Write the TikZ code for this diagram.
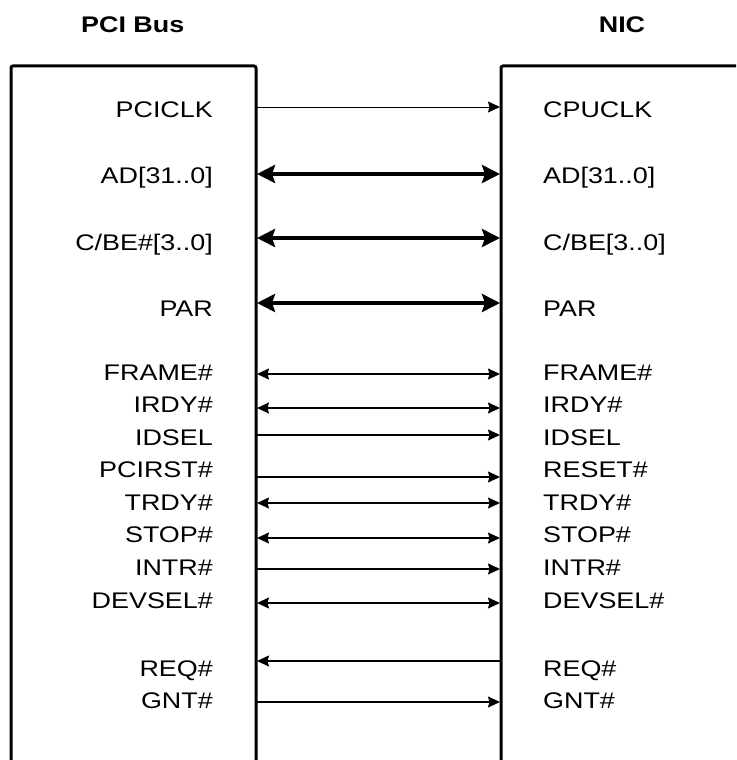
\documentclass[tikz,border=0pt]{standalone}
\usepackage{fontspec}
\setmainfont{Liberation Sans}[FakeStretch=1.19]
\usetikzlibrary{arrows.meta}

\begin{document}
\begin{tikzpicture}[x=1pt,y=-1pt,
  box/.style={line width=3pt, rounded corners=2pt},
  lbl/.style={font=\fontsize{22.6}{26}\selectfont, inner sep=0pt},
  llbl/.style={lbl, anchor=base east},
  rlbl/.style={lbl, anchor=base west},
  ttl/.style={font=\fontsize{22.6}{26}\selectfont\bfseries, inner sep=0pt, anchor=base},
  bus/.style={line width=4pt, {Stealth[length=18pt,width=18pt,inset=3pt]}-{Stealth[length=18pt,width=18pt,inset=3pt]}},
  sig/.style={line width=1.4pt},
  sigr/.style={sig, -{Stealth[length=12pt,width=11pt,inset=1.5pt]}},
  sigl/.style={sig, {Stealth[length=12pt,width=11pt,inset=1.5pt]}-},
  sigb/.style={sig, {Stealth[length=12pt,width=11pt,inset=1.5pt]}-{Stealth[length=12pt,width=11pt,inset=1.5pt]}}
]
\useasboundingbox (0,0) rectangle (736,760);
\clip (0,0) rectangle (736,760);

% titles
\node[ttl] (tpci) at (132.7,32.3) {PCI Bus};
\node[ttl] (tnic) at (622,32.3) {NIC};

% boxes (open at the bottom)
\draw[box] (11,765) -- (11,66) -- (256,66) -- (256,765);
\draw[box] (501,765) -- (501,66) -- (745,66);

% left labels
\node[llbl] (l1)  at (213,117)   {PCICLK};
\node[llbl] (l2)  at (213,183.5) {AD[31..0]};
\node[llbl] (l3)  at (213,250)   {C/BE\#[3..0]};
\node[llbl] (l4)  at (213,316)   {PAR};
\node[llbl] (l5)  at (213,380)   {FRAME\#};
\node[llbl] (l6)  at (213,412.5) {IRDY\#};
\node[llbl] (l7)  at (213,445)   {IDSEL};
\node[llbl] (l8)  at (213,477.5) {PCIRST\#};
\node[llbl] (l9)  at (213,510)   {TRDY\#};
\node[llbl] (l10) at (213,542.5) {STOP\#};
\node[llbl] (l11) at (213,575)   {INTR\#};
\node[llbl] (l12) at (213,608)   {DEVSEL\#};
\node[llbl] (l13) at (213,676)   {REQ\#};
\node[llbl] (l14) at (213,708)   {GNT\#};

% right labels
\node[rlbl] (r1)  at (543,117)   {CPUCLK};
\node[rlbl] (r2)  at (543,183.5) {AD[31..0]};
\node[rlbl] (r3)  at (543,250)   {C/BE[3..0]};
\node[rlbl] (r4)  at (543,316)   {PAR};
\node[rlbl] (r5)  at (543,380)   {FRAME\#};
\node[rlbl] (r6)  at (543,412.5) {IRDY\#};
\node[rlbl] (r7)  at (543,445)   {IDSEL};
\node[rlbl] (r8)  at (543,477.5) {RESET\#};
\node[rlbl] (r9)  at (543,510)   {TRDY\#};
\node[rlbl] (r10) at (543,542.5) {STOP\#};
\node[rlbl] (r11) at (543,575)   {INTR\#};
\node[rlbl] (r12) at (543,608)   {DEVSEL\#};
\node[rlbl] (r13) at (543,676)   {REQ\#};
\node[rlbl] (r14) at (543,708)   {GNT\#};

% connector end points on the box edges
\coordinate (a1)  at (257,107);   \coordinate (b1)  at (500,107);
\coordinate (a2)  at (257,174);   \coordinate (b2)  at (500,174);
\coordinate (a3)  at (257,238);   \coordinate (b3)  at (500,238);
\coordinate (a4)  at (257,303);   \coordinate (b4)  at (500,303);
\coordinate (a5)  at (257,374);   \coordinate (b5)  at (500,374);
\coordinate (a6)  at (257,408);   \coordinate (b6)  at (500,408);
\coordinate (a7)  at (257,435);   \coordinate (b7)  at (500,435);
\coordinate (a8)  at (257,477);   \coordinate (b8)  at (500,477);
\coordinate (a9)  at (257,503);   \coordinate (b9)  at (500,503);
\coordinate (a10) at (257,538);   \coordinate (b10) at (500,538);
\coordinate (a11) at (257,569);   \coordinate (b11) at (500,569);
\coordinate (a12) at (257,603);   \coordinate (b12) at (500,603);
\coordinate (a13) at (257,661);   \coordinate (b13) at (500,661);
\coordinate (a14) at (257,702);   \coordinate (b14) at (500,702);

% connectors
\draw[sigr, line width=1pt] (a1) -- (b1);
\draw[bus]  (a2)  -- (b2);
\draw[bus]  (a3)  -- (b3);
\draw[bus]  (a4)  -- (b4);
\draw[sigb] (a5)  -- (b5);
\draw[sigb] (a6)  -- (b6);
\draw[sigr] (a7)  -- (b7);
\draw[sigr] (a8)  -- (b8);
\draw[sigb] (a9)  -- (b9);
\draw[sigb] (a10) -- (b10);
\draw[sigr] (a11) -- (b11);
\draw[sigb] (a12) -- (b12);
\draw[sigl] (a13) -- (b13);
\draw[sigr] (a14) -- (b14);
\end{tikzpicture}
\end{document}
